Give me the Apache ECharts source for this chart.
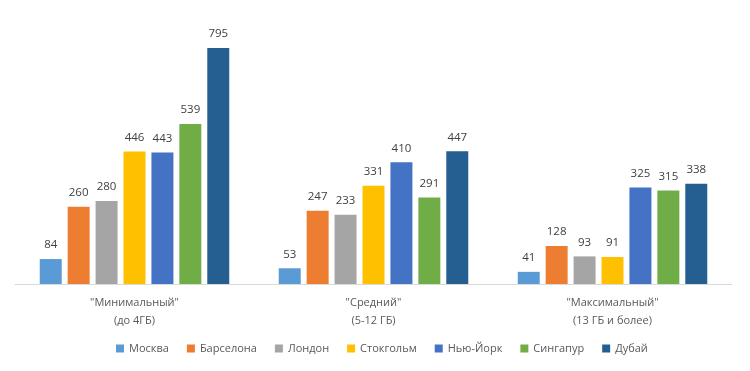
<!DOCTYPE html>
<html><head><meta charset="utf-8">
<script src="https://cdn.jsdelivr.net/npm/echarts@6/dist/echarts.min.js"></script>
<style>html,body{margin:0;padding:0;background:#fff}#c{width:750px;height:371px}</style>
</head><body><div id="c"></div>
<script>
const categories = ['"Минимальный"\n(до 4ГБ)', '"Средний"\n(5-12 ГБ)', '"Максимальный"\n(13 ГБ и более)'];
const seriesNames = ['Москва','Барселона','Лондон','Стокгольм','Нью-Йорк','Сингапур','Дубай'];
const moscow = [84, 53, 41];
const barcelona = [260, 247, 128];
const london = [280, 233, 93];
const stockholm = [446, 331, 91];
const newYork = [443, 410, 325];
const singapore = [539, 291, 315];
const dubai = [795, 447, 338];
const values = [moscow, barcelona, london, stockholm, newYork, singapore, dubai];
const colors = ['#5B9BD5','#ED7D31','#A5A5A5','#FFC000','#4472C4','#70AD47','#255E91'];
const font = '"Open Sans", "Noto Sans", sans-serif';
const chart = echarts.init(document.getElementById('c'));
chart.setOption({
  animation: false,
  grid: {left: 15, right: 18, top: 46.5, bottom: 87, containLabel: false},
  legend: {
    top: 338, left: 111, itemWidth: 8, itemHeight: 8, itemGap: 18,
    icon: 'rect',
    textStyle: {fontFamily: font, fontSize: 11, color: '#595959'},
    data: seriesNames
  },
  xAxis: {
    type: 'category', data: categories,
    axisLine: {lineStyle: {color: '#D9D9D9', width: 1}},
    axisTick: {show: false},
    axisLabel: {fontFamily: font, fontSize: 11, color: '#595959', lineHeight: 18, margin: 10}
  },
  yAxis: {type: 'value', min: 0, max: 800, show: false, splitLine: {show: false}},
  series: seriesNames.map((n, i) => ({
    name: n, type: 'bar', data: values[i],
    barGap: '27%', barCategoryGap: '20.7%',
    itemStyle: {color: colors[i]},
    label: {show: true, position: 'top', distance: 8, fontFamily: font, fontSize: 11.5, color: '#404040'}
  }))
});
</script></body></html>
